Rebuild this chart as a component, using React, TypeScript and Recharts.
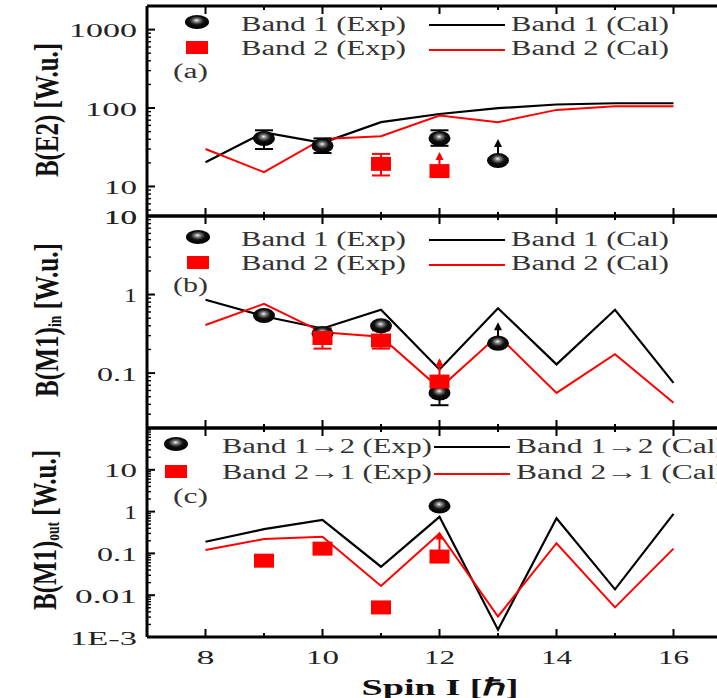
import React from 'react';
import { ComposedChart, Line, Scatter, XAxis, YAxis, ErrorBar } from 'recharts';

// shared x values (spin)
const spins = [8, 9, 10, 11, 12, 13, 14, 15, 16];

// (a) B(E2)
const be2Band1Cal = [20.4, 49, 36, 66, 84, 99.5, 111, 115, 115];
const be2Band2Cal = [30, 15.2, 40.4, 43.8, 80, 66, 94.7, 105, 105];
const be2Band1ExpSpin = [9, 10, 12, 13];
const be2Band1Exp = [41, 33, 41, 21.4];
const be2Band1ExpLo = [30, 26.7, 33, 21.4];
const be2Band1ExpHi = [52, 41, 52, 21.4];
const be2Band2ExpSpin = [11, 12];
const be2Band2Exp = [19.4, 15.7];
const be2Band2ExpLo = [13.8, 15.7];
const be2Band2ExpHi = [26, 15.7];
const be2Band1LimitSpin = [13];
const be2Band1LimitTip = [38];
const be2Band2LimitSpin = [12];
const be2Band2LimitTip = [26];

// (b) B(M1)in
const inBand1Cal = [0.86, 0.53, 0.37, 0.64, 0.111, 0.67, 0.129, 0.64, 0.075];
const inBand2Cal = [0.41, 0.76, 0.33, 0.29, 0.064, 0.3, 0.056, 0.174, 0.042];
const inBand1ExpSpin = [9, 10, 11, 12, 13];
const inBand1Exp = [0.54, 0.32, 0.4, 0.056, 0.24];
const inBand1ExpLo = [0.5, 0.25, 0.36, 0.039, 0.24];
const inBand1ExpHi = [0.58, 0.37, 0.44, 0.07, 0.24];
const inBand2ExpSpin = [10, 11, 12];
const inBand2Exp = [0.28, 0.26, 0.078];
const inBand2ExpLo = [0.205, 0.205, 0.078];
const inBand2ExpHi = [0.37, 0.35, 0.078];
const inBand1LimitSpin = [13];
const inBand1LimitTip = [0.42];
const inBand2LimitSpin = [12];
const inBand2LimitTip = [0.146];

// (c) B(M1)out
const outBand12Cal = [0.19, 0.38, 0.63, 0.048, 0.75, 0.0015, 0.69, 0.0138, 0.88];
const outBand21Cal = [0.12, 0.22, 0.25, 0.0166, 0.3, 0.0031, 0.175, 0.0051, 0.13];
const outBand12ExpSpin = [12];
const outBand12Exp = [1.36];
const outBand21ExpSpin = [9, 10, 11, 12];
const outBand21Exp = [0.067, 0.13, 0.0051, 0.084];
const outBand21LimitSpin = [12];
const outBand21LimitTip = [0.3];

// tick labels
const xTickValues = [7, 8, 9, 10, 11, 12, 13, 14, 15, 16, 17];
const xTickLabels = ['', '8', '', '10', '', '12', '', '14', '', '16', ''];
const aTickValues = [4.2, 10, 100, 1000];
const aTickLabels = ['10', '10', '100', '1000'];
const bTickValues = [10, 1, 0.1];
const bTickLabels = ['10', '1', '0.1'];
const cTickValues = [10, 1, 0.1, 0.01, 0.001];
const cTickLabels = ['10', '1', '0.1', '0.01', '1E-3'];

const serif = '"Liberation Serif", "Times New Roman", serif';
const RED = '#ff0000';
const W = 760;
const H = 698;

// widths of the (stretched) labels in the figure
const labelWidth: Record<string, number> = {
  '1000': 68, '100': 52, '10': 33, '1': 13, '0.1': 40, '0.01': 62, '1E-3': 67,
  '8': 18, '12': 31, '14': 31, '16': 31,
};

const line = (ys: number[]) => spins.map((x, i) => ({ x, y: ys[i] }));
const points = (xs: number[], ys: number[], lo?: number[], hi?: number[]) =>
  xs.map((x, i) => ({ x, y: ys[i], err: lo && hi ? [ys[i] - lo[i], hi[i] - ys[i]] : [0, 0] }));
const arrows = (xs: number[], tips: number[], from: number[]) =>
  xs.map((x, i) => ({ x, y: tips[i], err: [tips[i] - from[i], 0] }));

const valueAt = (xs: number[], ys: number[], x: number) => ys[xs.indexOf(x)];

function logTicks(lo: number, hi: number) {
  const out: number[] = [];
  for (let e = Math.floor(Math.log10(lo)); e <= Math.ceil(Math.log10(hi)); e++) {
    for (let k = 1; k < 10; k++) {
      const v = +(k * Math.pow(10, e)).toPrecision(6);
      if (v >= lo * 0.999 && v <= hi * 1.001) out.push(v);
    }
  }
  return out;
}

const makeYTick = (values: number[], labels: string[]) => (props: any) => {
  const { x, y, payload } = props;
  const v = payload.value;
  const lg = Math.log10(v);
  const major = Math.abs(lg - Math.round(lg)) < 1e-6;
  const idx = values.findIndex((t) => Math.abs(t - v) < 1e-9);
  const lab = idx >= 0 ? labels[idx] : '';
  return (
    <g>
      <line x1={x} x2={x + (major ? 8 : 4)} y1={y} y2={y} stroke="#000" strokeWidth={major ? 2 : 1.4} />
      {lab && (
        <text x={x - 10} y={y + 1} textAnchor="end" dominantBaseline="central" fontFamily={serif}
          fontSize={19} fill="#222" textLength={labelWidth[lab]} lengthAdjust="spacingAndGlyphs">{lab}</text>
      )}
    </g>
  );
};

const makeXTick = (dir: number, showLabel: boolean) => (props: any) => {
  const { x, y, payload } = props;
  const v = payload.value;
  const idx = xTickValues.indexOf(v);
  const lab = xTickLabels[idx];
  const major = v % 2 === 0;
  return (
    <g>
      <line x1={x} x2={x} y1={y} y2={y + dir * (major ? 8 : 4)} stroke="#000" strokeWidth={2} />
      {showLabel && lab && (
        <text x={x} y={y + 20} textAnchor="middle" dominantBaseline="central" fontFamily={serif}
          fontSize={19} fill="#222" textLength={labelWidth[lab]} lengthAdjust="spacingAndGlyphs">{lab}</text>
      )}
    </g>
  );
};

const Ball = (props: any) => {
  const { cx, cy } = props;
  if (cx == null || cy == null) return null;
  return <ellipse cx={cx} cy={cy} rx={11} ry={7.5} fill="url(#ballGrad)" />;
};
const Square = (props: any) => {
  const { cx, cy } = props;
  if (cx == null || cy == null) return null;
  return <rect x={cx - 10} y={cy - 7} width={20} height={14} fill={RED} />;
};
const makeArrow = (color: string) => (props: any) => {
  const { cx, cy } = props;
  if (cx == null || cy == null) return null;
  return <path d={`M${cx - 4},${cy + 6} L${cx},${cy - 2} L${cx + 4},${cy + 6} Z`} fill={color} />;
};

// axes have 1px boxes (a zero-sized axis is not drawn); margins account for them
function axes(domain: [number, number], tickValues: number[], tickLabels: string[], showXLabels: boolean) {
  const minor = logTicks(domain[0], domain[1]);
  const yt = [...minor, ...tickValues.filter((t) => !minor.includes(t))];
  return [
    <XAxis key="xb" xAxisId={0} type="number" dataKey="x" domain={[7, 17]} ticks={xTickValues} interval={0}
      height={1} tickSize={0} tickMargin={0} tickLine={false} allowDataOverflow
      axisLine={{ stroke: '#000', strokeWidth: 3 }} tick={makeXTick(-1, showXLabels)} />,
    <XAxis key="xt" xAxisId="top" orientation="top" type="number" dataKey="x" domain={[7, 17]} ticks={xTickValues}
      interval={0} height={1} tickSize={0} tickMargin={0} tickLine={false} allowDataOverflow
      axisLine={{ stroke: '#000', strokeWidth: 3 }} tick={makeXTick(1, false)} />,
    <YAxis key="y" type="number" dataKey="y" scale="log" domain={domain} ticks={yt} interval={0} width={1}
      tickSize={0} tickMargin={0} tickLine={false} allowDataOverflow
      axisLine={{ stroke: '#000', strokeWidth: 3 }} tick={makeYTick(tickValues, tickLabels)} />,
  ];
}

const margins = (top: number, bottom: number) => ({ top: top - 1, bottom: H - bottom - 1, left: 146, right: 28 });

const chartBox: React.CSSProperties = { position: 'absolute', left: 0, top: 0 };

function LegendRows({ y1, y2, exp1, exp2, cal1, cal2, expX, expLen, lineX1, lineX2, calX, calLen, markX, letter, letterY }: any) {
  const t = { fontFamily: serif, fontSize: 20, fill: '#333', dominantBaseline: 'central' as const, lengthAdjust: 'spacingAndGlyphs' as const };
  return (
    <g>
      <ellipse cx={markX} cy={y1 - 2} rx={12} ry={7} fill="url(#ballGrad)" />
      <rect x={markX - 11} y={y2 - 7} width={22} height={13} fill={RED} />
      <text x={expX} y={y1} textLength={expLen} {...t}>{exp1}</text>
      <text x={expX} y={y2} textLength={expLen} {...t}>{exp2}</text>
      <line x1={lineX1} x2={lineX2} y1={y1 + 1} y2={y1 + 1} stroke="#000" strokeWidth={2.2} />
      <line x1={lineX1} x2={lineX2} y1={y2 + 2} y2={y2 + 2} stroke={RED} strokeWidth={2} />
      <text x={calX} y={y1} textLength={calLen} {...t}>{cal1}</text>
      <text x={calX} y={y2} textLength={calLen} {...t}>{cal2}</text>
      <text x={173} y={letterY} textLength={35} {...t}>{letter}</text>
    </g>
  );
}

export default function App() {
  const titleStyle = { fontFamily: serif, fontSize: 24, fontWeight: 700, fill: '#111', textAnchor: 'middle' as const, dominantBaseline: 'central' as const, lengthAdjust: 'spacingAndGlyphs' as const };
  return (
    <div style={{ position: 'absolute', left: 0, top: 0, width: 717, height: 698, overflow: 'hidden', background: '#fff' }}>
      <svg width={0} height={0} style={{ position: 'absolute' }}>
        <defs>
          <radialGradient id="ballGrad" cx="50%" cy="42%" r="55%" fx="48%" fy="38%">
            <stop offset="0%" stopColor="#f4f4f4" />
            <stop offset="25%" stopColor="#777" />
            <stop offset="55%" stopColor="#111" />
            <stop offset="100%" stopColor="#000" />
          </radialGradient>
        </defs>
      </svg>

      {/* (a) */}
      <div style={chartBox}>
        <ComposedChart width={W} height={H} margin={margins(6, 216)}>
          {axes([4.2, 2000], aTickValues, aTickLabels, false)}
          <Line data={line(be2Band1Cal)} dataKey="y" stroke="#000" strokeWidth={2.2} dot={false} isAnimationActive={false} />
          <Line data={line(be2Band2Cal)} dataKey="y" stroke={RED} strokeWidth={2} dot={false} isAnimationActive={false} />
          <Scatter data={arrows(be2Band1LimitSpin, be2Band1LimitTip, [valueAt(be2Band1ExpSpin, be2Band1Exp, 13)])} shape={makeArrow('#000')} isAnimationActive={false}>
            <ErrorBar dataKey="err" direction="y" width={0} stroke="#000" strokeWidth={2} />
          </Scatter>
          <Scatter data={arrows(be2Band2LimitSpin, be2Band2LimitTip, [valueAt(be2Band2ExpSpin, be2Band2Exp, 12)])} shape={makeArrow(RED)} isAnimationActive={false}>
            <ErrorBar dataKey="err" direction="y" width={0} stroke={RED} strokeWidth={2} />
          </Scatter>
          <Scatter data={points(be2Band1ExpSpin, be2Band1Exp, be2Band1ExpLo, be2Band1ExpHi)} shape={Ball} isAnimationActive={false}>
            <ErrorBar dataKey="err" direction="y" width={9} stroke="#000" strokeWidth={2} />
          </Scatter>
          <Scatter data={points(be2Band2ExpSpin, be2Band2Exp, be2Band2ExpLo, be2Band2ExpHi)} shape={Square} isAnimationActive={false}>
            <ErrorBar dataKey="err" direction="y" width={9} stroke={RED} strokeWidth={2} />
          </Scatter>
        </ComposedChart>
      </div>

      {/* (b) */}
      <div style={chartBox}>
        <ComposedChart width={W} height={H} margin={margins(216, 428)}>
          {axes([0.02, 10], bTickValues, bTickLabels, false)}
          <Line data={line(inBand1Cal)} dataKey="y" stroke="#000" strokeWidth={2.2} dot={false} isAnimationActive={false} />
          <Line data={line(inBand2Cal)} dataKey="y" stroke={RED} strokeWidth={2} dot={false} isAnimationActive={false} />
          <Scatter data={arrows(inBand1LimitSpin, inBand1LimitTip, [valueAt(inBand1ExpSpin, inBand1Exp, 13)])} shape={makeArrow('#000')} isAnimationActive={false}>
            <ErrorBar dataKey="err" direction="y" width={0} stroke="#000" strokeWidth={2} />
          </Scatter>
          <Scatter data={arrows(inBand2LimitSpin, inBand2LimitTip, [valueAt(inBand2ExpSpin, inBand2Exp, 12)])} shape={makeArrow(RED)} isAnimationActive={false}>
            <ErrorBar dataKey="err" direction="y" width={0} stroke={RED} strokeWidth={2} />
          </Scatter>
          <Scatter data={points(inBand1ExpSpin, inBand1Exp, inBand1ExpLo, inBand1ExpHi)} shape={Ball} isAnimationActive={false}>
            <ErrorBar dataKey="err" direction="y" width={9} stroke="#000" strokeWidth={2} />
          </Scatter>
          <Scatter data={points(inBand2ExpSpin, inBand2Exp, inBand2ExpLo, inBand2ExpHi)} shape={Square} isAnimationActive={false}>
            <ErrorBar dataKey="err" direction="y" width={9} stroke={RED} strokeWidth={2} />
          </Scatter>
        </ComposedChart>
      </div>

      {/* (c) */}
      <div style={chartBox}>
        <ComposedChart width={W} height={H} margin={margins(428, 637)}>
          {axes([0.001, 100], cTickValues, cTickLabels, true)}
          <Line data={line(outBand12Cal)} dataKey="y" stroke="#000" strokeWidth={2.2} dot={false} isAnimationActive={false} />
          <Line data={line(outBand21Cal)} dataKey="y" stroke={RED} strokeWidth={2} dot={false} isAnimationActive={false} />
          <Scatter data={arrows(outBand21LimitSpin, outBand21LimitTip, [valueAt(outBand21ExpSpin, outBand21Exp, 12)])} shape={makeArrow(RED)} isAnimationActive={false}>
            <ErrorBar dataKey="err" direction="y" width={0} stroke={RED} strokeWidth={2} />
          </Scatter>
          <Scatter data={points(outBand12ExpSpin, outBand12Exp)} shape={Ball} isAnimationActive={false} />
          <Scatter data={points(outBand21ExpSpin, outBand21Exp)} shape={Square} isAnimationActive={false} />
        </ComposedChart>
      </div>

      {/* titles and legends */}
      <svg width={717} height={698} style={{ position: 'absolute', left: 0, top: 0, pointerEvents: 'none' }}>
        <text transform="translate(46,110) scale(1.4,1) rotate(-90)" textLength={134} {...titleStyle}>B(E2) [W.u.]</text>
        <text transform="translate(46,320) scale(1.4,1) rotate(-90)" textLength={154} {...titleStyle}>
          B(M1)<tspan fontSize={13} dy={6}>in</tspan><tspan dy={-6}> [W.u.]</tspan>
        </text>
        <text transform="translate(44,530) scale(1.4,1) rotate(-90)" textLength={160} {...titleStyle}>
          B(M1)<tspan fontSize={13} dy={6}>out</tspan><tspan dy={-6}> [W.u.]</tspan>
        </text>
        <text x={440} y={687} textLength={157} {...titleStyle} fontSize={23}>Spin I [ℏ]</text>

        <LegendRows y1={24} y2={48} exp1="Band 1 (Exp)" exp2="Band 2 (Exp)" cal1="Band 1 (Cal)" cal2="Band 2 (Cal)"
          expX={241} expLen={165} lineX1={429} lineX2={505} calX={511} calLen={158} markX={197} letter="(a)" letterY={71} />
        <LegendRows y1={239} y2={263} exp1="Band 1 (Exp)" exp2="Band 2 (Exp)" cal1="Band 1 (Cal)" cal2="Band 2 (Cal)"
          expX={241} expLen={165} lineX1={429} lineX2={505} calX={511} calLen={158} markX={198} letter="(b)" letterY={285} />
        <LegendRows y1={446} y2={472} exp1="Band 1→2 (Exp)" exp2="Band 2→1 (Exp)" cal1="Band 1→2 (Cal)" cal2="Band 2→1 (Cal)"
          expX={222} expLen={210} lineX1={434} lineX2={510} calX={516} calLen={210} markX={176} letter="(c)" letterY={496} />
      </svg>
    </div>
  );
}
